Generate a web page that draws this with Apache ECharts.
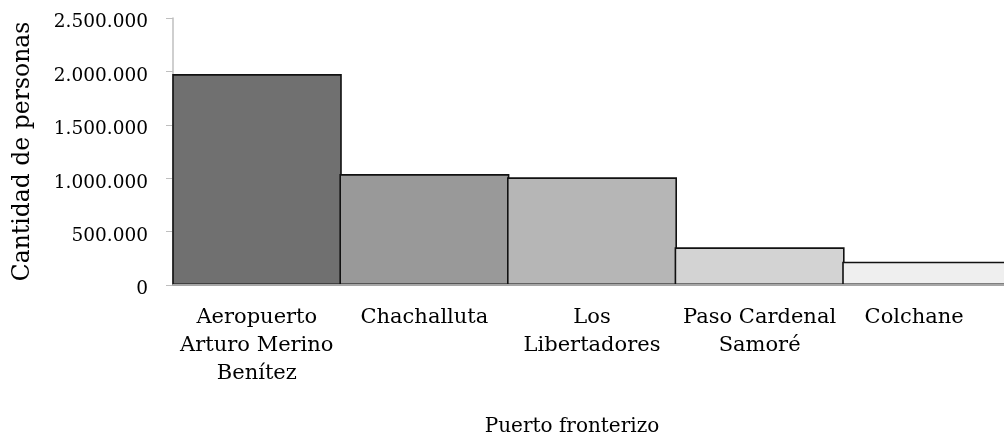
<!DOCTYPE html>
<html>
<head>
<meta charset="utf-8">
<script src="https://cdn.jsdelivr.net/npm/echarts@6/dist/echarts.min.js"></script>
<style>
html,body{margin:0;padding:0;background:#fff;}
#chart{width:1004px;height:438px;}
</style>
</head>
<body>
<div id="chart"></div>
<script>
const categories = ['Aeropuerto\nArturo Merino\nBenítez', 'Chachalluta', 'Los\nLibertadores', 'Paso Cardenal\nSamoré', 'Colchane'];
const personas = [1975000, 1039000, 1008000, 353000, 218000];
const barColors = ['#707070', '#999999', '#b6b6b6', '#d3d3d3', '#efefef'];
const yTicks = [0, 500000, 1000000, 1500000, 2000000, 2500000];
const xTitle = 'Puerto fronterizo';
const yTitle = 'Cantidad de personas';

const FONT = 'DejaVu Serif';
function fmt(v) { return String(v).replace(/\B(?=(\d{3})+(?!\d))/g, '.'); }

// the last label is pulled a little to the left, as in the original layout
const xLabelData = categories.map((c, i) =>
  i === categories.length - 1 ? {value: c, textStyle: {padding: [0, 26, 0, 0]}} : c);

const chart = echarts.init(document.getElementById('chart'), null, {renderer: 'canvas'});
chart.setOption({
  animation: false,
  backgroundColor: '#ffffff',
  grid: {left: 173, top: 18, width: 838, height: 267, containLabel: false, outerBoundsMode: 'none'},
  xAxis: {
    type: 'category',
    data: xLabelData,
    z: 3,
    axisLine: {show: true, lineStyle: {color: '#a6a6a6', width: 2}},
    axisTick: {show: false},
    axisLabel: {fontFamily: FONT, fontSize: 21, color: '#000', lineHeight: 28, margin: 19, interval: 0},
    name: xTitle,
    nameLocation: 'middle',
    nameGap: 132,
    nameTextStyle: {fontFamily: FONT, fontSize: 20, color: '#000', padding: [0, 40, 0, 0]}
  },
  yAxis: {
    type: 'value',
    min: yTicks[0],
    max: yTicks[yTicks.length - 1],
    interval: yTicks[1] - yTicks[0],
    axisLine: {show: true, lineStyle: {color: '#bfbfbf', width: 1.5}},
    axisTick: {show: true, length: 7, lineStyle: {color: '#bfbfbf'}},
    splitLine: {show: false},
    axisLabel: {
      margin: 25,
      formatter: v => '{a|' + fmt(v) + '}',
      rich: {a: {fontFamily: FONT, fontSize: 18.5, color: '#000', lineHeight: 20, padding: [9, 0, 0, 0]}}
    },
    name: yTitle,
    nameLocation: 'middle',
    nameGap: 138,
    nameTextStyle: {fontFamily: FONT, fontSize: 23.5, color: '#000'}
  },
  series: [{
    type: 'bar',
    barWidth: 170,
    data: personas.map((v, i) => ({value: v, itemStyle: {color: barColors[i]}})),
    itemStyle: {borderColor: '#111', borderWidth: 1.6}
  }]
});
</script>
</body>
</html>
